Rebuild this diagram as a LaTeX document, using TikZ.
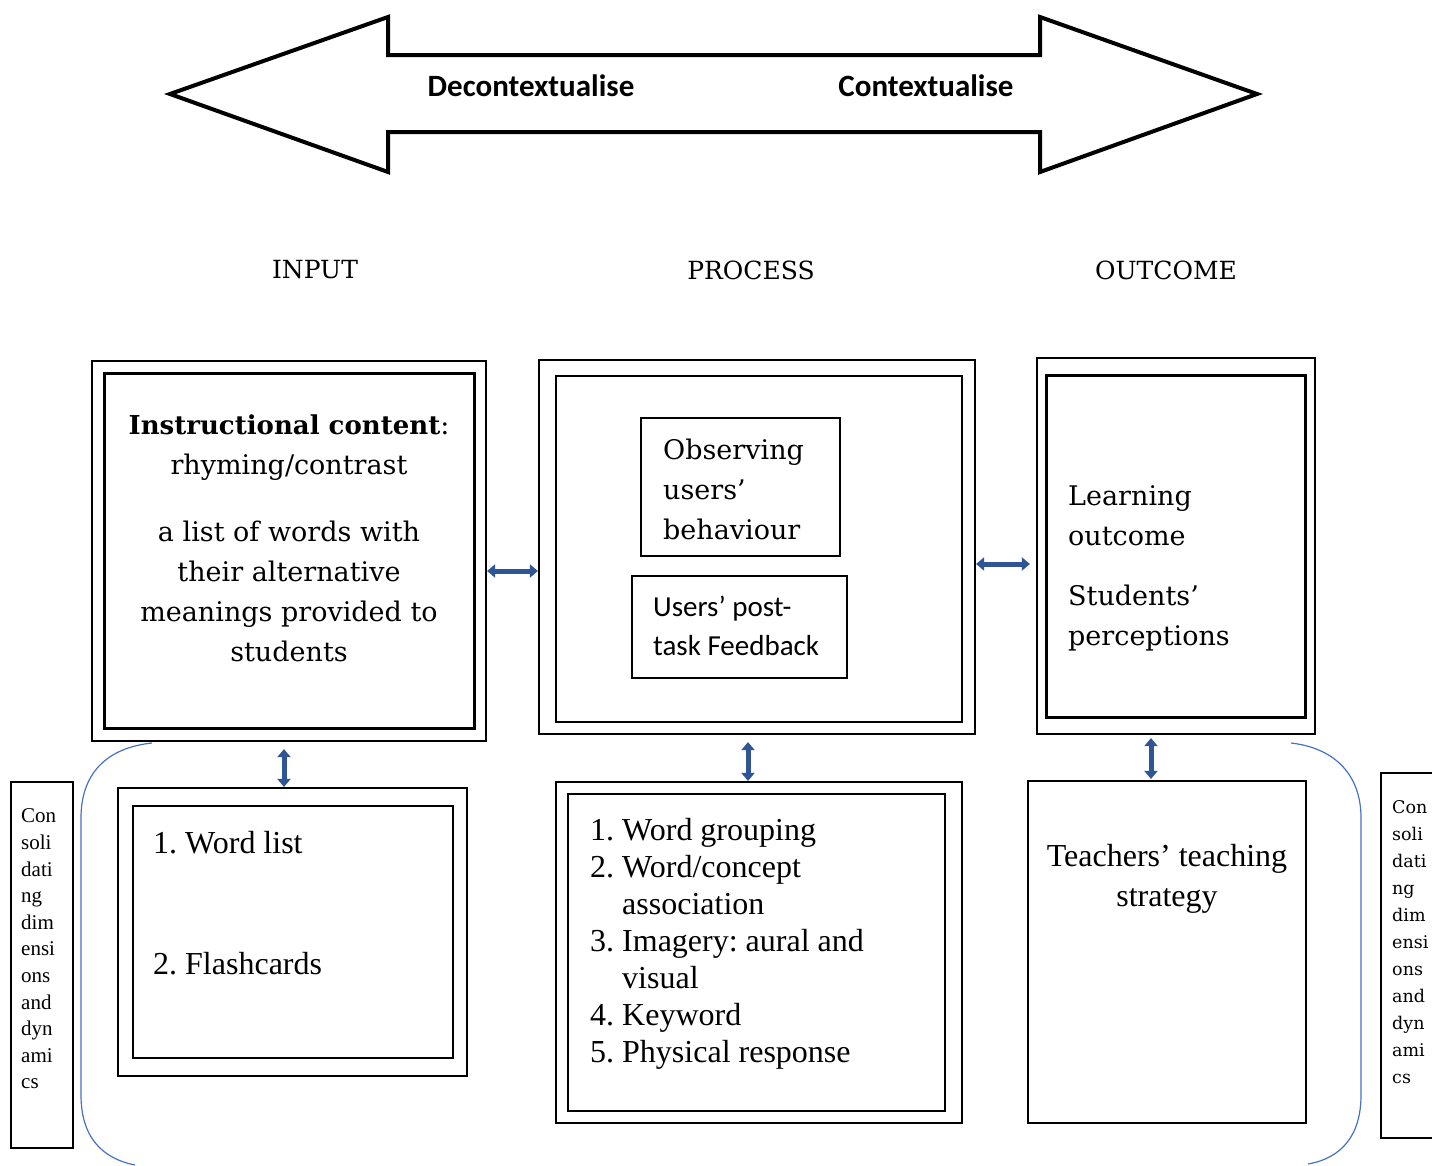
\documentclass[tikz,border=0pt]{standalone}
\usepackage{fontspec}
\setmainfont{Liberation Serif}
\newfontfamily\cambriafont{DejaVu Serif}
\newfontfamily\calibrifont{Carlito}
\usetikzlibrary{arrows.meta,positioning,calc}
\definecolor{linkblue}{RGB}{47,85,151}
\definecolor{bracketblue}{RGB}{68,114,196}
\frenchspacing

\begin{document}
\begin{tikzpicture}[x=1pt,y=-1pt,
   box/.style={draw,line width=2.2pt,inner sep=0pt},
   heavybox/.style={draw,line width=3pt,inner sep=0pt},
   txt/.style={inner sep=0pt,align=left},
   timestxt/.style={txt,font=\fontsize{32}{37}\selectfont},
   cambriatxt/.style={txt,font=\cambriafont\fontsize{27}{40}\selectfont},
   link/.style={linkblue,line width=5pt,{Triangle[width=13pt,length=8pt]}-{Triangle[width=13pt,length=8pt]}},
   bracket/.style={bracketblue,line width=1.2pt}]
\useasboundingbox (0,0) rectangle (1432,1165);

% big arrow on top
\draw[line width=4pt,line join=miter] (170,94) -- (388,17) -- (388,55) -- (1040,55) -- (1040,17)
   -- (1257,94) -- (1040,172) -- (1040,132) -- (388,132) -- (388,172) -- cycle;
\node[font=\calibrifont\bfseries\fontsize{31}{36}\selectfont] (decon) at (531,86) {Decontextualise};
\node[font=\calibrifont\bfseries\fontsize{31}{36}\selectfont] (con) at (926,86) {Contextualise};

% column titles
\node[font=\cambriafont\fontsize{25}{30}\selectfont] (inTitle) at (315,270) {INPUT};
\node[font=\cambriafont\fontsize{25}{30}\selectfont] (procTitle) at (751,270) {PROCESS};
\node[font=\cambriafont\fontsize{25}{30}\selectfont] (outTitle) at (1166,270) {OUTCOME};

% input
\node[box,minimum width=394pt,minimum height=380pt] (inOuter) at (289,551) {};
\node[heavybox,minimum width=370pt,minimum height=355pt] (inInner) at (289,550.5) {};
\node[cambriatxt,align=center] (inHead) at (289,448) {{\fontsize{26}{40}\selectfont\textbf{Instructional content}}:\\rhyming/contrast};
\node[cambriatxt,align=center] (inText) at (289,591) {a list of words with\\their alternative\\meanings provided to\\students};

% process
\node[box,minimum width=436pt,minimum height=374pt] (procOuter) at (757,547) {};
\node[box,minimum width=406pt,minimum height=346pt] (procInner) at (759,549) {};
\node[box,minimum width=199pt,minimum height=138pt] (observe) at (740.5,487) {};
\node[cambriatxt,anchor=west] (observeText) at (663,489.5) {Observing\\users’\\behaviour};
\node[box,minimum width=215pt,minimum height=102pt] (feedback) at (739.5,627) {};
\node[txt,anchor=west,font=\calibrifont\fontsize{29}{39}\selectfont] (feedbackText) at (653,625.5) {Users’ post-\\task Feedback};

% outcome
\node[box,minimum width=278pt,minimum height=376pt] (outOuter) at (1176,546) {};
\node[heavybox,minimum width=259pt,minimum height=342pt] (outInner) at (1175.5,546) {};
\node[cambriatxt,anchor=west] (learnText) at (1068,516) {Learning\\outcome};
\node[cambriatxt,anchor=west] (percText) at (1068,618) {Students’\\perceptions};

% lower row
\node[box,minimum width=349pt,minimum height=288pt] (wordOuter) at (292.5,932) {};
\node[box,minimum width=320pt,minimum height=252pt] (wordInner) at (293,932) {};
\node[timestxt,anchor=west] (wordOne) at (153,843) {1.\ Word list};
\node[timestxt,anchor=west] (wordTwo) at (153,964) {2.\ Flashcards};

\node[box,minimum width=406pt,minimum height=341pt] (stratOuter) at (759,952.5) {};
\node[box,minimum width=377pt,minimum height=317pt] (stratInner) at (756.5,952.5) {};
\node[timestxt,anchor=west] (stratList) at (590,944.5) {%
  \begin{tabular}{@{}l@{\ }l@{}}
  1.&Word grouping\\
  2.&Word/concept\\
   &association\\
  3.&Imagery: aural and\\
   &visual\\
  4.&Keyword\\
  5.&Physical response
  \end{tabular}};

\node[box,minimum width=278pt,minimum height=342pt] (teach) at (1167,952) {};
\node[txt,align=center,font=\fontsize{32}{40}\selectfont] (teachText) at (1167,879) {Teachers’ teaching\\strategy};

% side boxes
\node[box,minimum width=62pt,minimum height=366pt] (leftSide) at (42,965) {};
\node[txt,anchor=west,font=\fontsize{21}{26.6}\selectfont] (leftSideText) at (21,949)
   {Con\\soli\\dati\\ng\\dim\\ensi\\ons\\and\\dyn\\ami\\cs};
\node[box,minimum width=64pt,minimum height=365pt] (rightSide) at (1413,955.5) {};
\node[txt,anchor=west,font=\cambriafont\fontsize{17.5}{27}\selectfont] (rightSideText) at (1392,942)
   {Con\\soli\\dati\\ng\\dim\\ensi\\ons\\and\\dyn\\ami\\cs};

% brackets
\draw[bracket] (152,743) .. controls (105,748) and (81,775) .. (81,818) -- (81,1095)
   .. controls (81,1135) and (100,1158) .. (135,1165);
\draw[bracket] (1291,743) .. controls (1335,748) and (1361,775) .. (1361,818) -- (1361,1095)
   .. controls (1361,1135) and (1342,1158) .. (1308,1164);

% links
\draw[link] ([yshift=-20pt]inOuter.east) -- ([yshift=-24pt]procOuter.west);
\draw[link,shorten >=6pt] ([yshift=-17pt]procOuter.east) -- ([yshift=-18pt]outOuter.west);
\draw[link,shorten <=7pt] ([xshift=-5pt]inOuter.south) -- ([xshift=-8.5pt]wordOuter.north);
\draw[link,shorten <=7pt] ([xshift=-9pt]procOuter.south) -- ([xshift=-11pt]stratOuter.north);
\draw[link,shorten <=3pt,shorten >=1pt] ([xshift=-25pt]outOuter.south) -- ([xshift=-16pt]teach.north);
\end{tikzpicture}
\end{document}
